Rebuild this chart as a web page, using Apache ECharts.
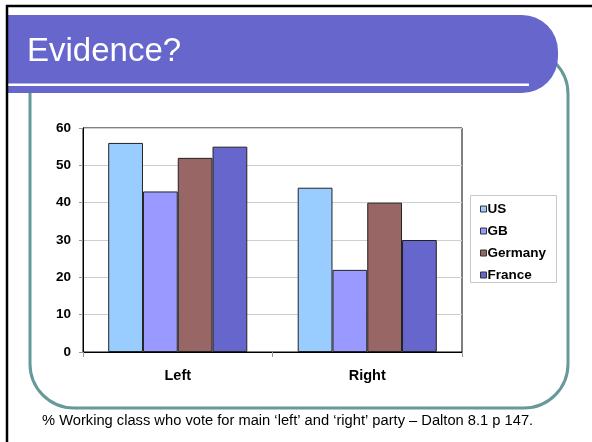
<!DOCTYPE html>
<html>
<head>
<meta charset="utf-8">
<script src="https://cdn.jsdelivr.net/npm/echarts@6/dist/echarts.min.js"></script>
<style>html,body{margin:0;padding:0;background:#fff;}#c{width:592px;height:442px;}</style>
</head>
<body>
<div id="c"></div>
<script>
var categories = ['Left', 'Right'];
var seriesNames = ['US', 'GB', 'Germany', 'France'];
var usValues = [56, 44];
var gbValues = [43, 22];
var germanyValues = [52, 40];
var franceValues = [55, 30];
var yTicks = [0, 10, 20, 30, 40, 50, 60];
var titleText = 'Evidence?';
var captionText = '% Working class who vote for main \u2018left\u2019 and \u2018right\u2019 party \u2013 Dalton 8.1 p 147.';

var colors = ['#99ccff', '#9999ff', '#996666', '#6666cc'];
var allValues = [usValues, gbValues, germanyValues, franceValues];
var FONT = '"Liberation Sans", Arial, sans-serif';

var chart = echarts.init(document.getElementById('c'), null, {renderer: 'canvas'});
var series = seriesNames.map(function (name, i) {
  return {
    name: name,
    type: 'bar',
    data: allValues[i],
    barGap: '0%',
    barCategoryGap: '26.6%',
    itemStyle: {color: colors[i], borderColor: '#222', borderWidth: 1},
    emphasis: {disabled: true},
    z: 5,
    animation: false
  };
});

chart.setOption({
  animation: false,
  textStyle: {fontFamily: FONT},
  grid: {left: 83, top: 128, width: 379, height: 224, show: true, borderColor: '#000', borderWidth: 1, backgroundColor: '#fff'},
  xAxis: {
    type: 'category',
    data: categories,
    axisLine: {show: true, lineStyle: {color: '#000', width: 1}},
    axisTick: {show: true, alignWithLabel: false, length: 5, lineStyle: {color: '#999'}},
    axisLabel: {fontFamily: FONT, fontWeight: 'bold', fontSize: 14.5, color: '#000', margin: 16},
    z: 1
  },
  yAxis: {
    type: 'value',
    min: yTicks[0],
    max: yTicks[yTicks.length - 1],
    interval: 10,
    axisLine: {show: true, lineStyle: {color: '#000', width: 1}},
    axisTick: {show: true, length: 4, lineStyle: {color: '#999'}},
    axisLabel: {fontFamily: FONT, fontWeight: 'bold', fontSize: 13.5, color: '#000', margin: 12},
    splitLine: {show: true, lineStyle: {color: '#cfcfcf', width: 1}},
    z: 1
  },
  legend: {
    data: seriesNames,
    orient: 'vertical',
    left: 475,
    top: 197,
    icon: 'rect',
    itemWidth: 6,
    itemHeight: 6,
    itemGap: 8,
    itemStyle: {borderColor: '#333', borderWidth: 1},
    textStyle: {fontFamily: FONT, fontWeight: 'bold', fontSize: 13.5, color: '#000', padding: [0, 0, 0, -4]},
    selectedMode: false,
    z: 10
  },
  series: series,
  graphic: [
    {type: 'rect', z: 1, silent: true, shape: {x: 30, y: 50, width: 538, height: 358, r: 44}, style: {fill: 'none', stroke: '#669999', lineWidth: 3}},
    {type: 'rect', z: 2, silent: true, shape: {x: 8, y: 15, width: 550, height: 78, r: [0, 36, 36, 0]}, style: {fill: '#6666cc'}},
    {type: 'rect', z: 3, silent: true, shape: {x: 8, y: 83.5, width: 521, height: 2.5}, style: {fill: '#ffffff'}},
    {type: 'text', z: 4, silent: true, x: 27, y: 52, style: {text: titleText, fill: '#ffffff', font: '33px ' + FONT, verticalAlign: 'middle'}},
    {type: 'rect', z: 5, silent: true, shape: {x: 470.5, y: 195.5, width: 86, height: 87}, style: {fill: '#fff', stroke: '#c8c8c8', lineWidth: 1}},
    {type: 'text', z: 4, silent: true, x: 42, y: 421, style: {text: captionText, fill: '#000', font: '14.7px ' + FONT, verticalAlign: 'middle'}},
    {type: 'line', z: 20, silent: true, shape: {x1: 7, y1: 5, x2: 7, y2: 442}, style: {stroke: '#000', lineWidth: 2.5}},
    {type: 'line', z: 20, silent: true, shape: {x1: 6, y1: 6, x2: 592, y2: 6}, style: {stroke: '#000', lineWidth: 2.5}}
  ]
});
</script>
</body>
</html>
